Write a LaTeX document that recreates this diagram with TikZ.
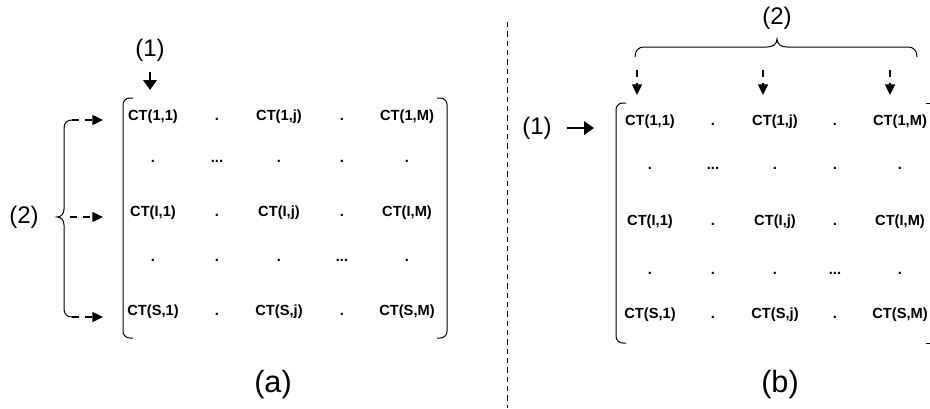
\documentclass[tikz,border=0pt]{standalone}
\usepackage{fontspec}
\setmainfont{Liberation Sans}
\usetikzlibrary{arrows.meta}
\tikzset{
  celda/.style={font=\fontsize{11}{13}\selectfont\bfseries, inner sep=0pt, anchor=base},
  etiq/.style={font=\fontsize{18}{20}\selectfont, inner sep=0pt},
  titulo/.style={font=\fontsize{23}{26}\selectfont, inner sep=0pt},
  flecha/.style={line width=2.2pt, -{Triangle[length=7.5pt,width=10pt]}},
  flechaguion/.style={line width=1pt, dash pattern=on 5.25pt off 4.5pt, -{Triangle[length=8pt,width=7.5pt]}},
  corchete/.style={line width=0.75pt, rounded corners=5pt},
  llave/.style={line width=0.75pt},
}
\begin{document}
\begin{tikzpicture}[x=0.75pt,y=-0.75pt]
    \useasboundingbox (0,0) rectangle (930,408);

    % Separador
    \draw[line width=0.6pt, dash pattern=on 4pt off 3pt] (507,22) -- (507,408);

    % Matriz (a)
    \draw[corchete] (133,98) -- (123,98) -- (123,338) -- (133,338);
    \draw[corchete] (437,98) -- (447,98) -- (447,338) -- (437,338);

    \node[celda] (a11) at (153,120) {CT(1,1)};
    \node[celda] (a12) at (217,120) {.};
    \node[celda] (a13) at (279,120) {CT(1,j)};
    \node[celda] (a14) at (342,120) {.};
    \node[celda] (a15) at (407,120) {CT(1,M)};

    \node[celda] (a21) at (153,162) {.};
    \node[celda] (a22) at (217,162) {...};
    \node[celda] (a23) at (279,162) {.};
    \node[celda] (a24) at (342,162) {.};
    \node[celda] (a25) at (407,162) {.};

    \node[celda] (a31) at (153,216) {CT(I,1)};
    \node[celda] (a32) at (217,216) {.};
    \node[celda] (a33) at (279,216) {CT(I,j)};
    \node[celda] (a34) at (342,216) {.};
    \node[celda] (a35) at (407,216) {CT(I,M)};

    \node[celda] (a41) at (153,261) {.};
    \node[celda] (a42) at (217,261) {.};
    \node[celda] (a43) at (279,261) {.};
    \node[celda] (a44) at (342,261) {...};
    \node[celda] (a45) at (407,261) {.};

    \node[celda] (a51) at (153,315) {CT(S,1)};
    \node[celda] (a52) at (217,315) {.};
    \node[celda] (a53) at (279,315) {CT(S,j)};
    \node[celda] (a54) at (342,315) {.};
    \node[celda] (a55) at (407,315) {CT(S,M)};

    % Entradas (a)
    \node[etiq] (uno_a) at (150,50) {(1)};
    \coordinate (ent_a) at (150,90);
    \draw[flecha, shorten <=8pt] (uno_a) -- (ent_a);

    % Llave (a)
    \draw[llave] (72,120) .. controls (67,120) and (64,123) .. (64,128) -- (64,209)
        .. controls (64,214) and (61,217) .. (57,217) .. controls (61,217) and (64,220) .. (64,225)
        -- (64,309) .. controls (64,314) and (67,317) .. (72,317);
    \node[etiq] (dos_a) at (24,217) {(2)};
    \coordinate (sal_a1) at (72,120);
    \coordinate (sal_a2) at (70,217);
    \coordinate (sal_a3) at (72,317);
    \coordinate (fila_a1) at (103,120);
    \coordinate (fila_a2) at (103,217);
    \coordinate (fila_a3) at (103,317);
    \draw[flechaguion] (sal_a1) -- (fila_a1);
    \draw[flechaguion] (sal_a2) -- (fila_a2);
    \draw[flechaguion] (sal_a3) -- (fila_a3);

    \node[titulo] (tit_a) at (273,385) {(a)};

    % Matriz (b)
    \draw[corchete] (626,103) -- (616,103) -- (616,343) -- (626,343);
    \draw[line width=0.75pt] (926,103) -- (930,103);
    \draw[line width=0.75pt] (926,343) -- (930,343);

    \node[celda] (b11) at (650,125) {CT(1,1)};
    \node[celda] (b12) at (713,125) {.};
    \node[celda] (b13) at (775,125) {CT(1,j)};
    \node[celda] (b14) at (835,125) {.};
    \node[celda] (b15) at (900,125) {CT(1,M)};

    \node[celda] (b21) at (650,169) {.};
    \node[celda] (b22) at (713,169) {...};
    \node[celda] (b23) at (775,169) {.};
    \node[celda] (b24) at (835,169) {.};
    \node[celda] (b25) at (900,169) {.};

    \node[celda] (b31) at (650,225) {CT(I,1)};
    \node[celda] (b32) at (713,225) {.};
    \node[celda] (b33) at (775,225) {CT(I,j)};
    \node[celda] (b34) at (835,225) {.};
    \node[celda] (b35) at (900,225) {CT(I,M)};

    \node[celda] (b41) at (650,274) {.};
    \node[celda] (b42) at (713,274) {.};
    \node[celda] (b43) at (775,274) {.};
    \node[celda] (b44) at (835,274) {...};
    \node[celda] (b45) at (900,274) {.};

    \node[celda] (b51) at (650,318) {CT(S,1)};
    \node[celda] (b52) at (713,318) {.};
    \node[celda] (b53) at (775,318) {CT(S,j)};
    \node[celda] (b54) at (835,318) {.};
    \node[celda] (b55) at (900,318) {CT(S,M)};

    % Entradas (b)
    \node[etiq] (uno_b) at (537,128) {(1)};
    \coordinate (ent_b) at (594,128);
    \draw[flecha, shorten <=11pt] (uno_b) -- (ent_b);

    % Llave (b)
    \draw[llave] (635,57) .. controls (635,51) and (638,47) .. (644,47) -- (767,47)
        .. controls (773,47) and (777,44) .. (777,39) .. controls (777,44) and (781,47) .. (787,47)
        -- (908,47) .. controls (914,47) and (917,51) .. (917,57);
    \node[etiq] (dos_b) at (777,18) {(2)};
    \coordinate (sal_b1) at (637,70);
    \coordinate (sal_b2) at (763,70);
    \coordinate (sal_b3) at (890,70);
    \coordinate (col_b1) at (637,95);
    \coordinate (col_b2) at (763,95);
    \coordinate (col_b3) at (890,95);
    \draw[flechaguion] (sal_b1) -- (col_b1);
    \draw[flechaguion] (sal_b2) -- (col_b2);
    \draw[flechaguion] (sal_b3) -- (col_b3);

    \node[titulo] (tit_b) at (780,385) {(b)};
\end{tikzpicture}
\end{document}
